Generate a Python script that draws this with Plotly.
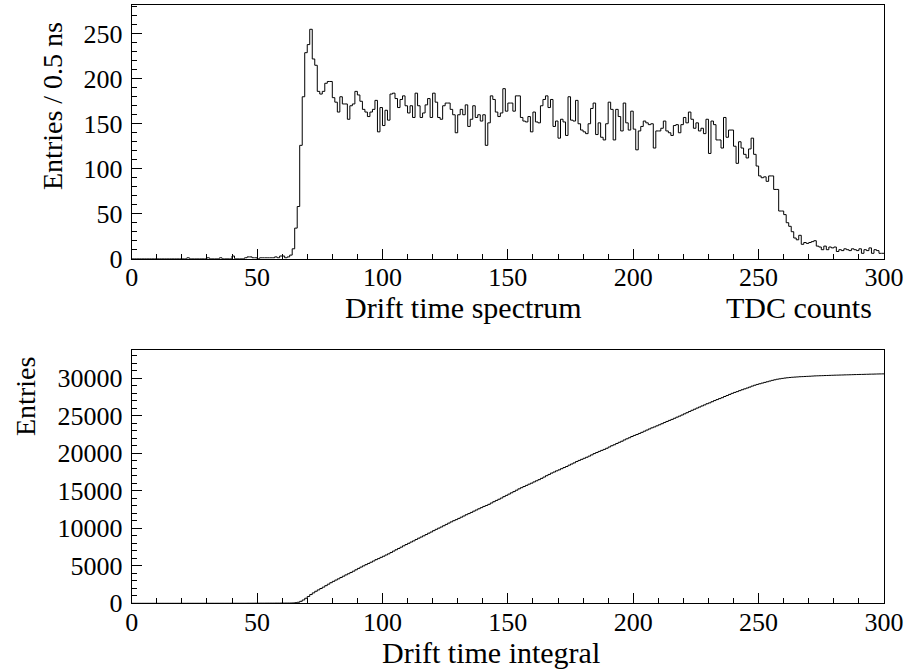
import numpy as np
import plotly.graph_objects as go

# ---- data: counts per TDC bin (bin width 1 count = 0.5 ns), bins 0..299 ----
early = {22: 1, 30: 1, 35: 1, 40: 3, 45: 1, 46: 2, 47: 2, 48: 1, 49: 1,
         51: 1, 52: 1, 53: 1, 54: 1, 55: 1, 56: 1, 57: 2, 58: 1, 59: 3,
         60: 3, 61: 1, 62: 2, 63: 4}
main_counts = [
    11, 34, 58, 126, 180, 229, 238, 255, 222, 215,          # 64-73
    186, 183, 186, 195, 197, 197, 179, 174, 163, 180,       # 74-83
    172, 172, 155, 170, 172, 186, 182, 175, 166, 163,       # 84-93
    158, 163, 166, 176, 141, 168, 148, 165, 154, 183,       # 94-103
    184, 178, 168, 177, 181, 170, 162, 170, 157, 184,       # 104-113
    170, 157, 162, 171, 178, 157, 184, 174, 157, 155,       # 114-123
    170, 173, 173, 166, 160, 140, 160, 166, 160, 171,       # 124-133
    147, 155, 170, 157, 160, 153, 160, 126, 151, 181,       # 134-143
    177, 163, 158, 162, 189, 164, 173, 173, 164, 181,       # 144-153
    181, 157, 153, 152, 158, 141, 163, 152, 151, 170,       # 154-163
    177, 181, 168, 177, 147, 153, 134, 155, 152, 137,       # 164-173
    180, 154, 153, 176, 150, 143, 141, 139, 150, 167,       # 174-183
    173, 138, 151, 135, 132, 150, 174, 166, 132, 166,       # 184-193
    158, 142, 173, 151, 143, 164, 144, 121, 142, 147,       # 194-203
    153, 151, 149, 150, 123, 142, 142, 145, 153, 142,       # 204-213
    140, 137, 148, 149, 140, 149, 157, 151, 163, 155,       # 214-223
    145, 151, 142, 145, 139, 155, 117, 153, 149, 132,       # 224-233
    132, 123, 157, 135, 143, 143, 125, 106, 130, 123,       # 234-243
    116, 112, 122, 134, 116, 103, 92, 90, 91, 86,           # 244-253
    92, 92, 77, 77, 53, 53, 49, 40, 36, 30,                 # 254-263
    23, 21, 26, 16, 18, 17, 18, 19, 20, 14,                 # 264-273
    13, 10, 14, 10, 13, 12, 13, 8, 10, 9,                   # 274-283
    11, 10, 9, 11, 10, 9, 11, 6, 10, 9,                     # 284-293
    12, 6, 10, 9, 6, 6,                                     # 294-299
]
counts = np.zeros(300)
for k, v in early.items():
    counts[k] = v
counts[64:64 + len(main_counts)] = main_counts

edges = np.arange(301)
integral = np.cumsum(counts)

FONT = "Liberation Serif"
TICK_SIZE = 26

fig = go.Figure()
fig.add_trace(go.Scatter(x=edges, y=np.append(counts, counts[-1]), mode="lines",
                         line=dict(shape="hv", color="black", width=1),
                         xaxis="x", yaxis="y", showlegend=False, hoverinfo="skip"))
fig.add_trace(go.Scatter(x=edges, y=np.append(integral, integral[-1]), mode="lines",
                         line=dict(shape="hv", color="black", width=1),
                         xaxis="x2", yaxis="y2", showlegend=False, hoverinfo="skip"))

W, H = 910, 669
xl, xr = 131.7, 884.0
top_t, top_b = 5.0, 258.7
bot_t, bot_b = 350.0, 603.3

def ax(rng, dtick, mdtick, domain, anchor):
    return dict(range=rng, domain=domain, anchor=anchor, showgrid=False, zeroline=False,
                showline=True, linecolor="black", linewidth=1, mirror=True,
                ticks="inside", ticklen=10, tickwidth=1, tickcolor="black", dtick=dtick,
                tick0=0, tickformat="d",
                minor=dict(ticks="inside", ticklen=5, dtick=mdtick, tickcolor="black",
                           showgrid=False),
                tickfont=dict(family=FONT, size=TICK_SIZE, color="black"), automargin=False,
                fixedrange=True)

xdom = [xl / W, xr / W]
fig.update_layout(
    width=W, height=H, margin=dict(l=0, r=0, t=0, b=0),
    paper_bgcolor="white", plot_bgcolor="white",
    xaxis=ax([0, 300], 50, 10, xdom, "y"),
    yaxis=ax([0, 282], 50, 10, [1 - top_b / H, 1 - top_t / H], "x"),
    xaxis2=ax([0, 300], 50, 10, xdom, "y2"),
    yaxis2=ax([0, 33770], 5000, 1000, [1 - bot_b / H, 1 - bot_t / H], "x2"),
)
fig.update_yaxes(ticklabelstandoff=3)
fig.update_xaxes(ticklabelstandoff=-5)

def ann(text, x, y, xanchor="center", angle=0, size=30):
    return dict(text=text, x=x / W, y=1 - y / H, xref="paper", yref="paper",
                xanchor=xanchor, yanchor="middle", showarrow=False, textangle=angle,
                font=dict(family=FONT, size=size, color="black"))

fig.update_layout(annotations=[
    ann("Drift time spectrum", 463, 308),
    ann("TDC counts", 874, 308, xanchor="right"),
    ann("Drift time integral", 491, 652),
    ann("Entries / 0.5 ns", 53, 106, angle=-90, size=28),
    ann("Entries", 25, 397, angle=-90, size=28),
])

fig.write_html("out.html")
